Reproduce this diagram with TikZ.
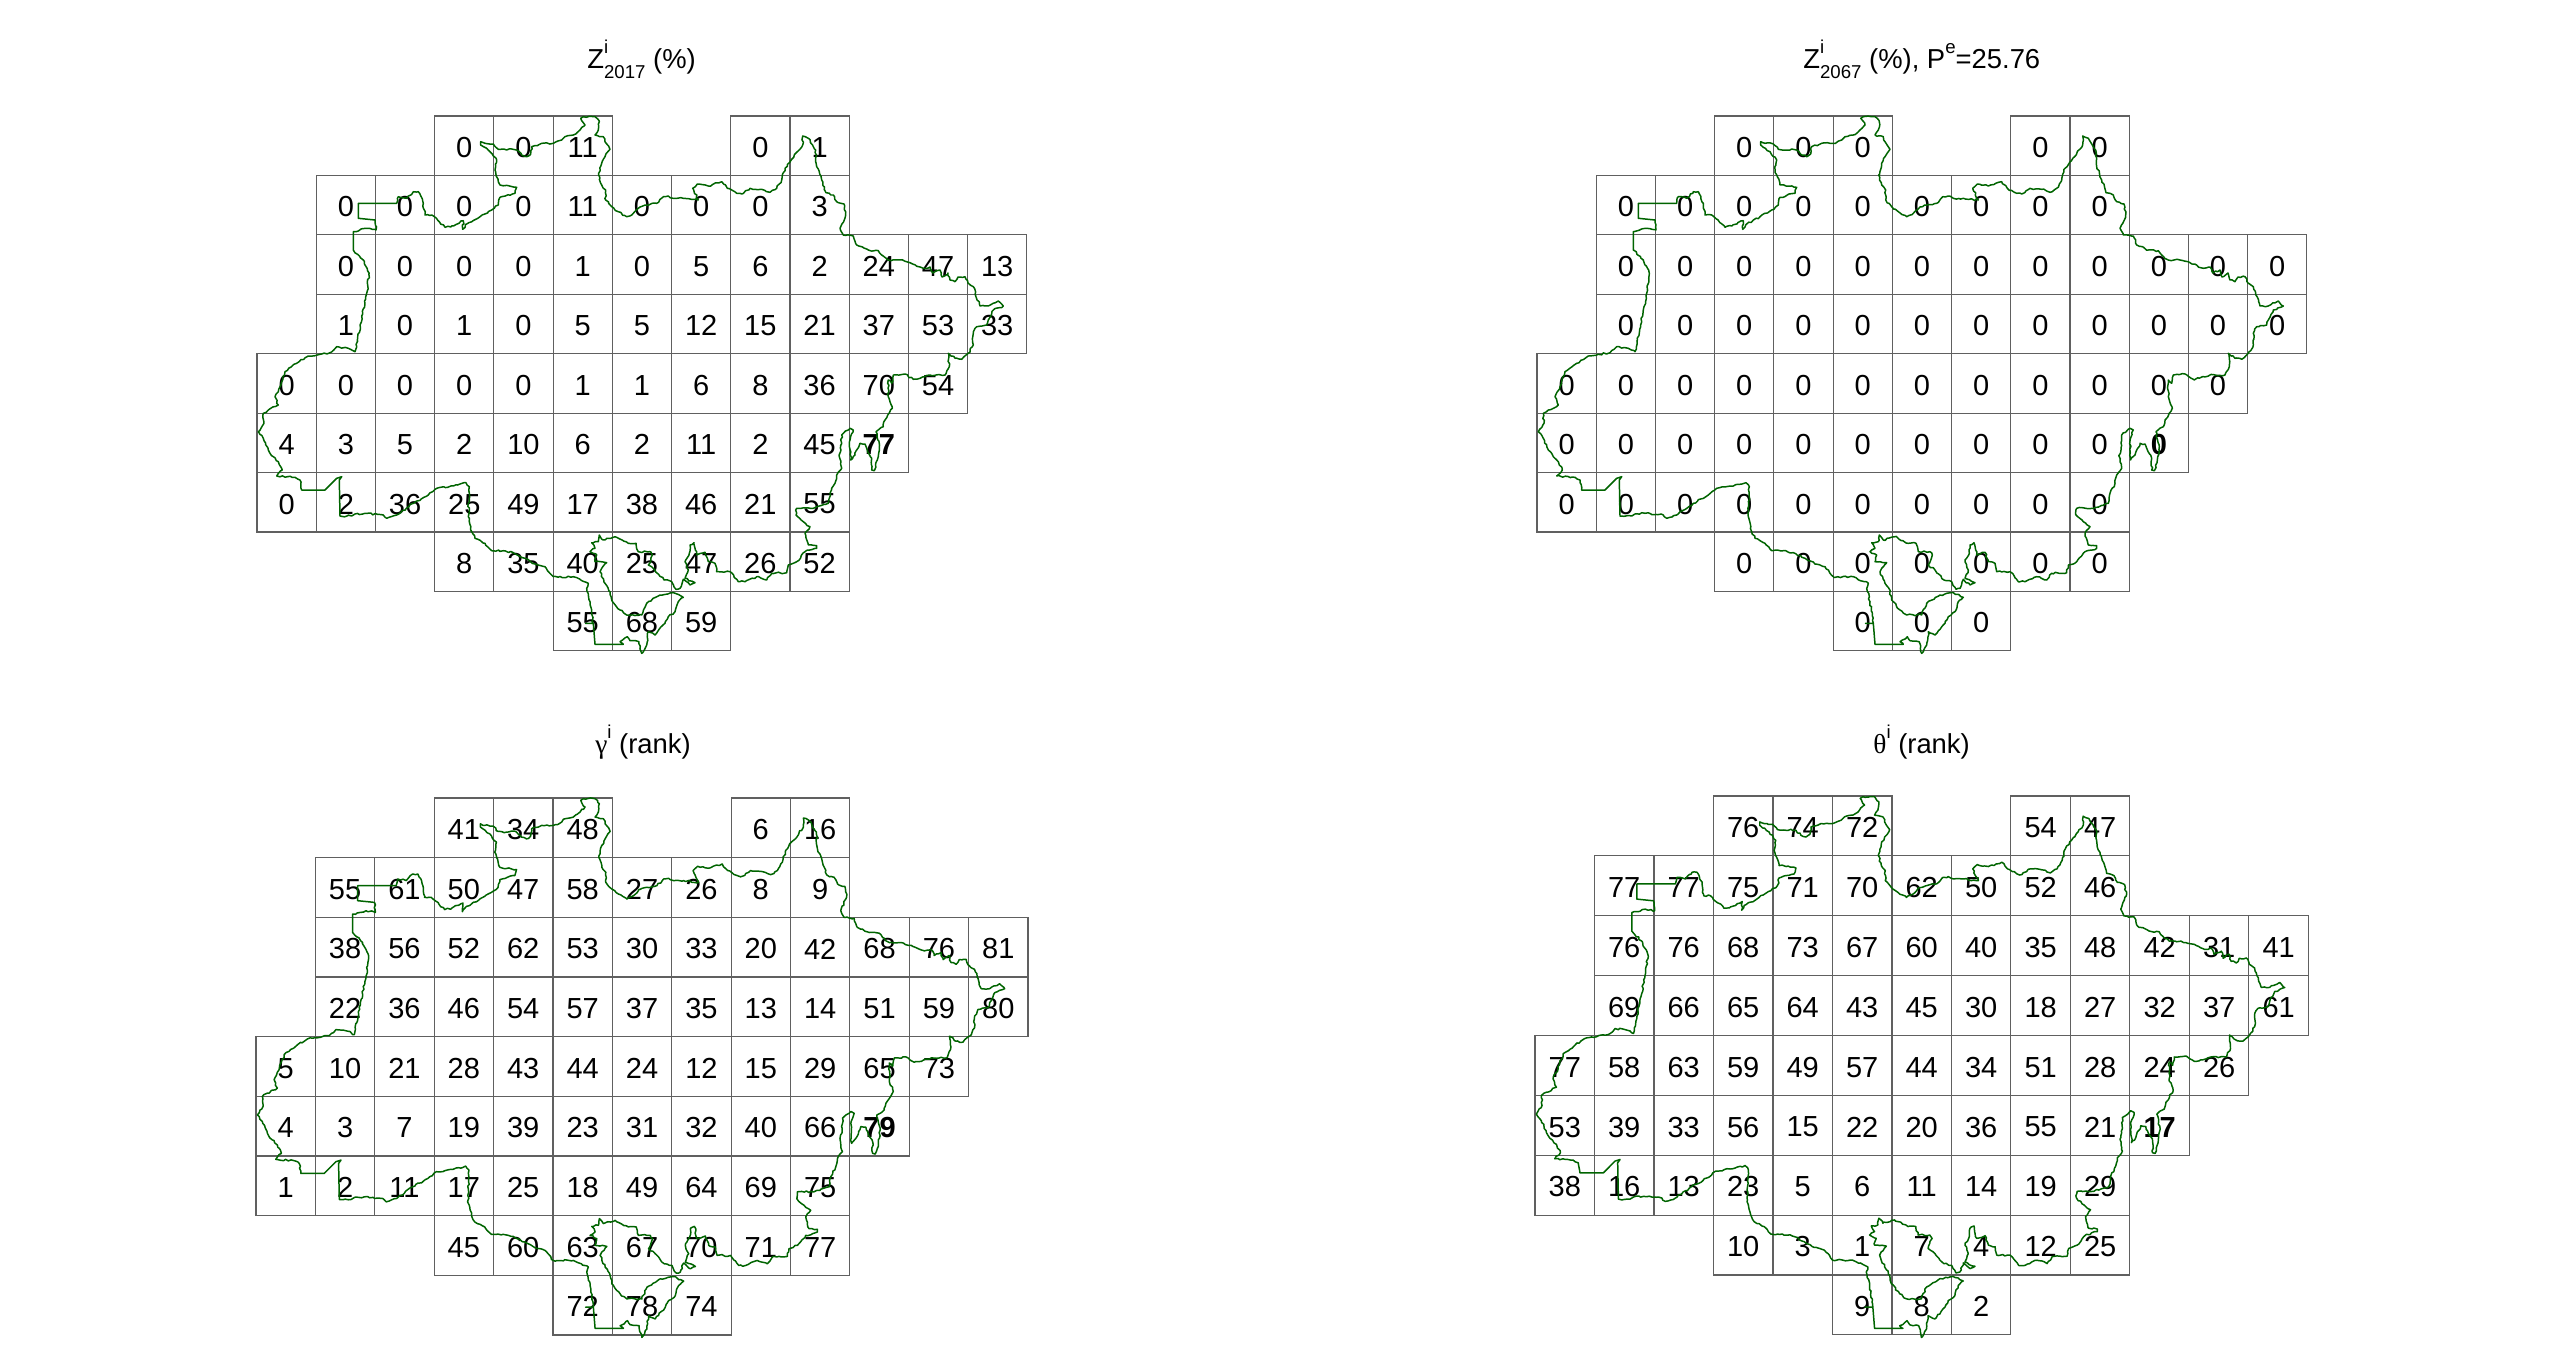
\documentclass[tikz,border=0pt]{standalone}
\usepackage{fontspec}
\setmainfont{Liberation Sans}
\newfontfamily\greekfont{Liberation Serif}
\usetikzlibrary{decorations.pathmorphing}
\definecolor{gridgray}{HTML}{606060}
\definecolor{coastgreen}{HTML}{006400}

\tikzset{
    cellbox/.style={draw=gridgray, line width=0.65pt},
    cellnum/.style={inner sep=0pt, yshift=-1pt, text=black, font=\fontsize{16.5}{18}\selectfont},
    paneltitle/.style={anchor=base west, inner sep=0pt, text=black, font=\fontsize{15.6}{18}\selectfont},
    coastline/.style={draw=coastgreen, line width=0.85pt, line join=round,
                      decoration={random steps, segment length=1.5pt, amplitude=0.5pt}},
}

\newcommand{\idxfont}{\fontsize{10.6}{11}\selectfont}
\newcommand{\hi}[1]{\raisebox{8.3pt}{\idxfont #1}}
\newcommand{\lo}[1]{\raisebox{-5.7pt}{\idxfont #1}}

% one row of cells: row, first column, values
\newcommand{\cellrow}[3]{%
    \foreach \val [count=\k from 0] in {#3} {
        \pgfmathtruncatemacro{\col}{#2+\k}
        \draw[cellbox] (\col,#1) rectangle ++(1,1);
        \node[cellnum] (\pname-#1-\col) at (\col+0.5,#1+0.5) {\val};
    }%
}

% boundary, in pixels of the first panel
\newcommand{\drawcoast}{%
\draw[coastline] (480.7,141.7) decorate{ -- (485,143.3) -- (493.3,144) -- (498.3,149.3) -- (506.7,150) -- (511.7,149)
    -- (516.7,150) -- (521.7,155) -- (526.7,156.7) -- (530.7,154) -- (531.7,146.7) -- (538.3,145) -- (541.7,143.3)
    -- (553.3,143.3) -- (561.7,140) -- (565,136.7) -- (573.3,135) -- (580,130) -- (585,125) -- (580.7,118.3)
    -- (583.3,116.7) -- (595,116.7) -- (599.3,121.7) -- (598.3,130) -- (595,135) -- (603.3,136.7) -- (605,141.7)
    -- (610,149.3) -- (605,156.7) -- (601.7,163.3) -- (598.7,175) -- (601.7,185) -- (605.7,190) -- (605.7,200)
    -- (611.7,206.7) -- (618.3,211.7) -- (626.7,216.7) -- (633.3,213.3) -- (640,207) -- (646.7,205) -- (656.7,203.3)
    -- (663.3,196.7) -- (668.3,196) -- (673.3,198.3) -- (683.3,198.3) -- (698.3,200) -- (692.7,188.3) -- (697.3,184)
    -- (708.3,186) -- (721.7,181.7) -- (727.3,188.3) -- (736.7,193.3) -- (741.7,194) -- (750,188.3) -- (761.7,189.3)
    -- (770,192.3) -- (776.7,188.3) -- (781.7,180) -- (785,168.3) -- (802.7,145) -- (802.7,136) -- (808.3,138.3)
    -- (813.3,146.7) -- (815.7,150) -- (816.7,166.7) -- (821.7,180) -- (826,192.7) -- (833.3,195) -- (836.7,201.7)
    -- (844,204) -- (845.7,215) -- (840,228.3) -- (843.3,235) -- (853.3,236) -- (856.7,245) -- (868.3,250)
    -- (878.3,250.7) -- (881.7,255) -- (888.3,260) -- (900,260) -- (910,262.7) -- (923.3,268.3) -- (930,267)
    -- (933,273) -- (940,270) -- (942,277) -- (948,273) -- (950,280) -- (955,281.7) -- (958,277) -- (965,276.7)
    -- (968,283) -- (973.3,286.7) -- (980,306) -- (988.3,306) -- (998.3,301) -- (1003.3,306) -- (993.3,310)
    -- (988.3,320) -- (986.7,325) -- (976.7,326.7) -- (973.3,333.3) -- (973.3,345) -- (968.3,353.3) -- (961.7,359.3)
    -- (955,358.3) -- (948.3,353.3) -- (949.3,366.7) -- (945,375) -- (930,375) -- (913.3,379.3) -- (905,374)
    -- (893.3,375) -- (891.7,383.3) -- (888.3,380) -- (888.3,396.7) -- (892.3,408.3) -- (885,420) -- (883.3,426.7)
    -- (876,431.7) -- (879.3,446.7) -- (877.3,460) -- (874.3,470.7) -- (871.7,470) -- (871.7,458.3) -- (866.7,448.3)
    -- (865,444) -- (860,443.3) -- (855,455) -- (850.7,460) -- (850,440) -- (853.3,430) -- (850,428.3) -- (841.7,435)
    -- (841,450) -- (839.3,456.7) -- (841.7,468.3) -- (836.7,475) -- (835,483.3) -- (830,493.3) -- (828.3,503.3)
    -- (813.3,508.3) -- (796.7,508.3) -- (796,515) -- (803.3,521.7) -- (810,526.7) -- (805,533.3) -- (808.3,545)
    -- (816.7,545.7) -- (816.7,548.3) -- (805,551.7) -- (796.7,561.7) -- (788.3,565) -- (786.7,572.7) -- (771.7,573.3)
    -- (766.7,580) -- (756.7,576.7) -- (745,581.7) -- (738.3,581.7) -- (730,571.7) -- (716.7,571.7) -- (715,563.3)
    -- (708.3,561.7) -- (705,552.3) -- (696.7,555) -- (694,542.7) -- (690,545) -- (689.3,553.3) -- (685,561.7)
    -- (688.3,570) -- (685,578.3) -- (695,582.7) -- (690,585) -- (683.3,579.3) -- (680,588.3) -- (676,589.3)
    -- (671.7,581.7) -- (664,580) -- (655,570) -- (648.3,565) -- (652.3,555) -- (650,551.7) -- (638.3,551.7)
    -- (636,543.3) -- (628.3,543.3) -- (615,536.7) -- (603.3,540) -- (599.3,535) -- (598.3,541.7) -- (591.7,542.7)
    -- (595,548.3) -- (590,551.7) -- (596.7,555) -- (595,561.7) -- (606.7,562.7) -- (601.7,568.3) -- (600,571.7)
    -- (605,583.3) -- (610,591.7) -- (611.7,600) -- (620,610) -- (626.7,615) -- (641.7,615) -- (646.7,603.3)
    -- (660,595) -- (673.3,592.7) -- (683.3,597.3) -- (678.3,601.7) -- (675,611.7) -- (668.3,616.7) -- (665,623.3)
    -- (655,635) -- (648.3,631.7) -- (646.7,645) -- (641.7,653.3) -- (639,641.7) -- (630,640.7) -- (627.3,636.7)
    -- (620,641.7) -- (623.3,644.3) } -- (595,644.3) -- (593.3,623.3) -- (585.5,623.3) -- (593.3,623.3) decorate{ -- (590,601.7) -- (586.7,588.3)
    -- (588.3,583.3) -- (573.3,576.7) -- (553.3,576.7) -- (545,566.7) -- (535,564) -- (525,558.3) -- (513.3,552.7)
    -- (503.3,550.7) -- (491.7,550.7) -- (485,543.3) -- (475,538.3) -- (471.7,531.7) -- (468.3,516.7) -- (469.3,486.7)
    -- (466,482.7) -- (453.3,486) -- (436.7,488.3) -- (428.3,495) -- (413.3,503.3) -- (396.7,515) -- (386.7,518.3)
    -- (383.3,515) -- (365,513.3) -- (355,514) -- (351.7,516) -- (340,516) } -- (339.3,480) -- (341.7,476.7)
    -- (336.7,478.3) -- (325,490) -- (301.7,490) decorate{ -- (300,480) -- (295,477.3) -- (276.7,476) -- (282.3,470)
    -- (278.3,461.7) -- (273.3,456.7) -- (268.3,450) -- (263.3,438.3) -- (258.3,431.7) -- (264,423.3) -- (263.3,413.3)
    -- (268.3,410) -- (278.3,405) -- (275,396.7) -- (280,386.7) -- (285,371.7) -- (296.7,363.3) -- (308.3,356)
    -- (330,352.7) -- (336.7,346.7) -- (348.3,348.3) -- (355,351.7) -- (357.3,340) -- (366.7,293.3) -- (369.3,273.3)
    -- (363.3,260) -- (353.3,250) } -- (353.3,231.7) decorate{ -- (366.7,228.3) -- (376,230) -- (375,220) } -- (358.3,218.3)
    -- (358.3,203.3) -- (396.7,203.3) decorate{ -- (398.3,196.7) -- (406.7,198.3) -- (413.3,191.7) -- (418.3,191.7)
    -- (423.3,203.3) -- (425,215) -- (431.7,215) -- (445,227.3) -- (451.7,226) -- (463.3,220.7) -- (462.7,229.3)
    -- (466.7,224) -- (480,216.7) -- (491.7,210) -- (498.3,205) -- (500,197.3) -- (515,193.3) -- (516.7,187.3)
    -- (500,185) -- (495,170) -- (496.7,160) -- (490,151.7) -- (480.7,145) } -- cycle;%
}

\begin{document}
\begin{tikzpicture}[x=0.02cm, y=-0.02cm]

% Background
\fill[white] (0,0) rectangle (2560,1369);
\useasboundingbox (0,0) rectangle (2560,1369);
\pgfmathsetseed{11}

% =============================================
% TOP LEFT
% =============================================
\node[paneltitle] (titleA) at (587,68) {Z\rlap{\hi{i}}\lo{2017} (\%)};
\begin{scope}[shift={(257,116)}, x=1.1846cm, y=-1.1888cm]
\def\pname{a}
\cellrow{0}{3}{0,0,11}
\cellrow{0}{8}{0,1}
\cellrow{1}{1}{0,0,0,0,11,0,0,0,3}
\cellrow{2}{1}{0,0,0,0,1,0,5,6,2,24,47,13}
\cellrow{3}{1}{1,0,1,0,5,5,12,15,21,37,53,33}
\cellrow{4}{0}{0,0,0,0,0,1,1,6,8,36,70,54}
\cellrow{5}{0}{4,3,5,2,10,6,2,11,2,45,\textbf{77}}
\cellrow{6}{0}{0,2,36,25,49,17,38,46,21,55}
\cellrow{7}{3}{8,35,40,25,47,26,52}
\cellrow{8}{5}{55,68,59}
\end{scope}
\drawcoast

% =============================================
% TOP RIGHT
% =============================================
\node[paneltitle] (titleB) at (1803,68) {Z\rlap{\hi{i}}\lo{2067} (\%), P\hi{e}=25.76};
\begin{scope}[shift={(1537,116)}, x=1.1846cm, y=-1.1888cm]
\def\pname{b}
\cellrow{0}{3}{0,0,0}
\cellrow{0}{8}{0,0}
\cellrow{1}{1}{0,0,0,0,0,0,0,0,0}
\cellrow{2}{1}{0,0,0,0,0,0,0,0,0,0,0,0}
\cellrow{3}{1}{0,0,0,0,0,0,0,0,0,0,0,0}
\cellrow{4}{0}{0,0,0,0,0,0,0,0,0,0,0,0}
\cellrow{5}{0}{0,0,0,0,0,0,0,0,0,0,\textbf{0}}
\cellrow{6}{0}{0,0,0,0,0,0,0,0,0,0}
\cellrow{7}{3}{0,0,0,0,0,0,0}
\cellrow{8}{5}{0,0,0}
\end{scope}
\begin{scope}[shift={(1280,0)}]
\drawcoast
\end{scope}

% =============================================
% BOTTOM LEFT
% =============================================
\node[paneltitle] (titleC) at (595,753) {{\greekfont γ}\hi{i} (rank)};
\begin{scope}[shift={(256,798)}, x=1.188cm, y=-1.1934cm]
\def\pname{c}
\cellrow{0}{3}{41,34,48}
\cellrow{0}{8}{6,16}
\cellrow{1}{1}{55,61,50,47,58,27,26,8,9}
\cellrow{2}{1}{38,56,52,62,53,30,33,20,42,68,76,81}
\cellrow{3}{1}{22,36,46,54,57,37,35,13,14,51,59,80}
\cellrow{4}{0}{5,10,21,28,43,44,24,12,15,29,65,73}
\cellrow{5}{0}{4,3,7,19,39,23,31,32,40,66,\textbf{79}}
\cellrow{6}{0}{1,2,11,17,25,18,49,64,69,75}
\cellrow{7}{3}{45,60,63,67,70,71,77}
\cellrow{8}{5}{72,78,74}
\end{scope}
\begin{scope}[shift={(-1.74,681.55)}, x=0.02006cm, y=-0.02008cm]
\drawcoast
\end{scope}

% =============================================
% BOTTOM RIGHT
% =============================================
\node[paneltitle] (titleD) at (1873,753) {{\greekfont θ}\hi{i} (rank)};
\begin{scope}[shift={(1535,796)}, x=1.19cm, y=-1.1978cm]
\def\pname{d}
\cellrow{0}{3}{76,74,72}
\cellrow{0}{8}{54,47}
\cellrow{1}{1}{77,77,75,71,70,62,50,52,46}
\cellrow{2}{1}{76,76,68,73,67,60,40,35,48,42,31,41}
\cellrow{3}{1}{69,66,65,64,43,45,30,18,27,32,37,61}
\cellrow{4}{0}{77,58,63,59,49,57,44,34,51,28,24,26}
\cellrow{5}{0}{53,39,33,56,15,22,20,36,55,21,\textbf{17}}
\cellrow{6}{0}{38,16,13,23,5,6,11,14,19,29}
\cellrow{7}{3}{10,3,1,7,4,12,25}
\cellrow{8}{5}{9,8,2}
\end{scope}
\begin{scope}[shift={(1276.83,679.12)}, x=0.02009cm, y=-0.02015cm]
\drawcoast
\end{scope}

\end{tikzpicture}
\end{document}
